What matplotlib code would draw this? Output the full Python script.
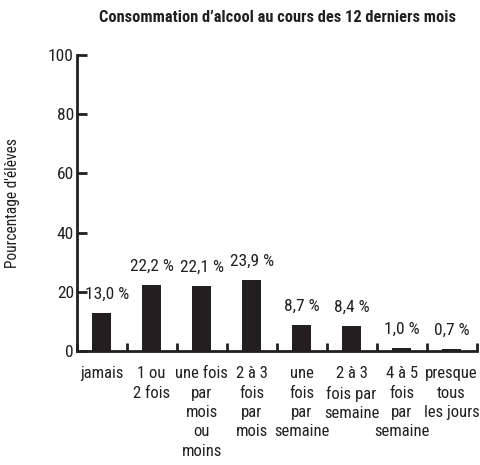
import matplotlib
matplotlib.use("Agg")
import matplotlib.pyplot as plt
from matplotlib import font_manager

categories = ["jamais", "1 ou\n2 fois", "une fois\npar\nmois\nou\nmoins", "2 à 3\nfois\npar\nmois",
              "une\nfois\npar\nsemaine", "2 à 3\nfois par\nsemaine", "4 à 5\nfois\npar\nsemaine",
              "presque\ntous\nles jours"]
values = [13.0, 22.2, 22.1, 23.9, 8.7, 8.4, 1.0, 0.7]
value_labels = ["13,0 %", "22,2 %", "22,1 %", "23,9 %", "8,7 %", "8,4 %", "1,0 %", "0,7 %"]
yticks = [0, 20, 40, 60, 80, 100]

names = {f.name for f in font_manager.fontManager.ttflist}
fam = "DejaVu Sans"
for cand in ["Roboto Condensed", "Archivo Narrow", "PT Sans Narrow", "Barlow Semi Condensed", "Barlow Condensed"]:
    if cand in names:
        fam = cand
        break
plt.rcParams["font.family"] = [fam, "DejaVu Sans"]

ink = "#231f20"
fig = plt.figure(figsize=(4.8, 4.65), dpi=100)
ax = fig.add_axes([0.1598, 0.245, 0.833, 0.637])
x = list(range(len(categories)))
ax.bar(x, values, width=0.38, color=ink)
for xi, v, lab in zip(x, values, value_labels):
    dx = 4 if xi == 0 else 0
    ax.annotate(lab, (xi, v), xytext=(dx, 8), textcoords="offset points",
                ha="center", va="bottom", fontsize=12.5, color=ink)
ax.set_xlim(-0.5, len(categories) - 0.5)
ax.set_ylim(0, 100)
ax.set_yticks(yticks)
ax.set_yticklabels([str(t) for t in yticks], fontsize=12.5, color=ink)
ax.set_xticks(x)
ax.set_xticklabels(categories, fontsize=12, color=ink, linespacing=1.36, va="top")
ax.tick_params(axis="x", which="major", length=0, pad=11)
ax.set_xticks([i - 0.5 for i in range(len(categories) + 1)], minor=True)
ax.tick_params(axis="x", which="minor", direction="in", length=6, width=2, color=ink)
ax.tick_params(axis="y", direction="in", length=7, width=2, color=ink, pad=2)
for s in ["top", "right"]:
    ax.spines[s].set_visible(False)
for s in ["left", "bottom"]:
    ax.spines[s].set_linewidth(2)
    ax.spines[s].set_color(ink)
ax.set_ylabel("Pourcentage d'élèves", fontsize=11.2, color=ink, labelpad=20)
fig.text(0.578, 0.963, "Consommation d’alcool au cours des 12 derniers mois", ha="center", va="center",
         fontsize=11.8, fontweight="bold", color=ink)
fig.savefig("out.png", dpi=100)
